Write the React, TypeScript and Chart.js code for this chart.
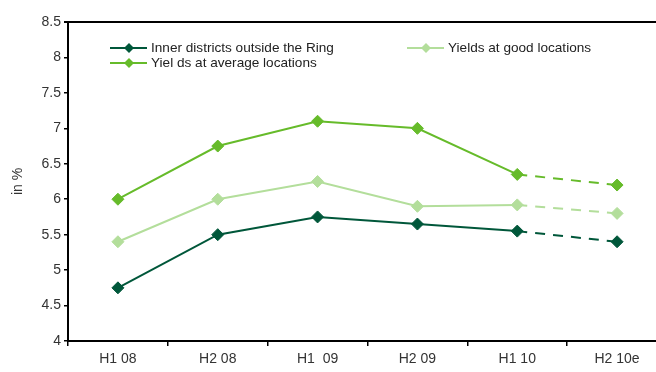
import React, { useEffect, useRef } from "react";
import { Chart, registerables } from "chart.js";

Chart.register(...registerables);

const categories = ["H1 08", "H2 08", "H1  09", "H2 09", "H1 10", "H2 10e"];
const innerDistricts = [4.75, 5.5, 5.75, 5.65, 5.55, 5.4];
const goodLocations = [5.4, 6.0, 6.25, 5.9, 5.92, 5.8];
const averageLocations = [6.0, 6.75, 7.1, 7.0, 6.35, 6.2];
const seriesLabels = [
  "Inner districts outside the Ring",
  "Yields at good locations",
  "Yiel ds at average locations",
];
const yTicks = [4, 4.5, 5, 5.5, 6, 6.5, 7, 7.5, 8, 8.5];
const forecastFrom = 4;

const DARK = "#00573A";
const LIGHT = "#B3DE9B";
const MEDIUM = "#66BB2A";
const FONT = "'Liberation Sans', Arial, sans-serif";

const legendPlugin = {
  id: "customLegend",
  afterDraw(chart: any) {
    const ctx = chart.ctx;
    const items = [
      { label: seriesLabels[0], color: DARK, x: 110, y: 48 },
      { label: seriesLabels[1], color: LIGHT, x: 407, y: 48 },
      { label: seriesLabels[2], color: MEDIUM, x: 110, y: 63 },
    ];
    ctx.save();
    items.forEach((it) => {
      ctx.strokeStyle = it.color;
      ctx.lineWidth = 2;
      ctx.beginPath();
      ctx.moveTo(it.x, it.y);
      ctx.lineTo(it.x + 37, it.y);
      ctx.stroke();
      const cx = it.x + 19;
      ctx.fillStyle = it.color;
      ctx.beginPath();
      ctx.moveTo(cx - 5, it.y);
      ctx.lineTo(cx, it.y - 5);
      ctx.lineTo(cx + 5, it.y);
      ctx.lineTo(cx, it.y + 5);
      ctx.closePath();
      ctx.fill();
      ctx.fillStyle = "#222";
      ctx.font = `13.6px ${FONT}`;
      ctx.textBaseline = "middle";
      ctx.textAlign = "left";
      ctx.fillText(it.label, it.x + 41, it.y);
    });
    ctx.restore();
  },
};

const topBorderPlugin = {
  id: "topBorder",
  afterDraw(chart: any) {
    const { ctx, chartArea } = chart;
    ctx.save();
    ctx.strokeStyle = "#000";
    ctx.lineWidth = 2;
    ctx.beginPath();
    ctx.moveTo(chartArea.left - 4, chartArea.top);
    ctx.lineTo(chartArea.right, chartArea.top);
    ctx.stroke();
    ctx.restore();
  },
};

function makeDataset(label: string, data: number[], color: string) {
  return {
    label,
    data,
    borderColor: color,
    backgroundColor: color,
    borderWidth: 2,
    pointStyle: "rectRot",
    pointRadius: 6,
    pointBorderWidth: 1,
    pointBorderColor: color,
    pointBackgroundColor: color,
    tension: 0,
    segment: {
      borderDash: (c: any) => (c.p0DataIndex >= forecastFrom ? [10, 8] : undefined),
    },
  };
}

export default function App() {
  const ref = useRef<HTMLCanvasElement | null>(null);
  useEffect(() => {
    if (!ref.current) return;
    const chart = new Chart(ref.current, {
      type: "line",
      data: {
        labels: categories,
        datasets: [
          makeDataset(seriesLabels[0], innerDistricts, DARK),
          makeDataset(seriesLabels[1], goodLocations, LIGHT),
          makeDataset(seriesLabels[2], averageLocations, MEDIUM),
        ] as any,
      },
      options: {
        responsive: false,
        animation: false,
        layout: { padding: { top: 22, left: 0, right: 0, bottom: 0 } },
        plugins: {
          legend: { display: false },
          tooltip: { enabled: false },
        },
        scales: {
          x: {
            type: "category",
            offset: true,
            grid: {
              offset: true,
              drawOnChartArea: false,
              drawTicks: true,
              tickLength: 5,
              color: "#000",
              lineWidth: 1.5,
            },
            border: { display: true, color: "#000", width: 2 },
            ticks: {
              color: "#333",
              font: { family: FONT, size: 14 },
              padding: 5,
              maxRotation: 0,
              autoSkip: false,
            },
            afterFit: (s: any) => {
              s.height = 31;
            },
          },
          y: {
            min: 4,
            max: 8.5,
            afterBuildTicks: (s: any) => {
              s.ticks = yTicks.map((v) => ({ value: v }));
            },
            grid: {
              drawOnChartArea: false,
              drawTicks: true,
              tickLength: 4,
              color: "#000",
              lineWidth: 1.5,
            },
            border: { display: true, color: "#000", width: 2 },
            ticks: {
              color: "#333",
              font: { family: FONT, size: 14 },
              padding: 3,
              callback: (v: any) => String(v),
            },
            title: {
              display: true,
              text: "in %",
              color: "#333",
              font: { family: FONT, size: 14 },
              padding: { top: 10, bottom: 0 },
            },
            afterFit: (s: any) => {
              s.width = 68;
            },
          },
        },
      },
      plugins: [legendPlugin, topBorderPlugin],
    });
    return () => chart.destroy();
  }, []);
  return (
    <div
      style={{
        position: "fixed",
        left: 0,
        top: 0,
        width: 656,
        height: 372,
        overflow: "hidden",
        background: "#fff",
      }}
    >
      <canvas ref={ref} width={674} height={372} style={{ display: "block" }} />
    </div>
  );
}
